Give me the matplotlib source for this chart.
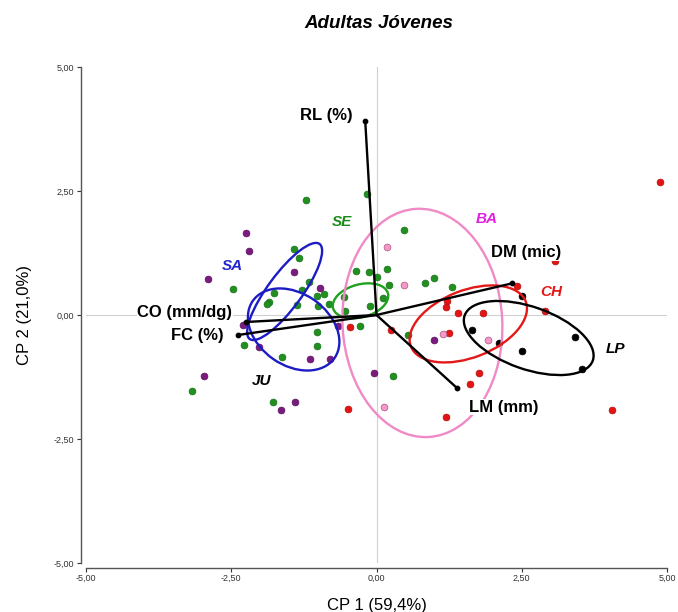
import matplotlib
matplotlib.use('Agg')
import matplotlib.pyplot as plt
from matplotlib.patches import Circle
from matplotlib.transforms import Affine2D
from matplotlib.ticker import FuncFormatter

plt.rcParams['font.family'] = ['Liberation Sans', 'DejaVu Sans']

# --- scores (CP1, CP2) per group colour ---
green_x = [-1.208, -0.163, -1.426, -1.328, -1.156, -2.466, -1.770, -1.284, -1.026, -0.911,
           -1.844, -1.885, -1.369, -1.009, -0.816, -0.567, -0.538, -0.108, 0.120, -0.349,
           -0.137, 0.017, 0.177, 0.223, 0.481, 0.833, 0.985, 1.306, -0.292, 0.550,
           -2.273, -1.017, -1.026, -1.627, 0.292, -3.179, -1.782]
green_y = [2.319, 2.440, 1.325, 1.149, 0.671, 0.518, 0.450, 0.504, 0.383, 0.423,
           0.262, 0.216, 0.202, 0.175, 0.212, 0.369, 0.087, 0.181, 0.337, 0.893,
           0.867, 0.772, 0.923, 0.595, 1.714, 0.639, 0.752, 0.571, -0.222, -0.413,
           -0.605, -0.337, -0.615, -0.853, -1.230, -1.526, -1.764]

purple_x = [-2.251, -2.199, -2.899, -1.426, -0.967, -2.297, -2.027, -1.139, -0.796, -0.670,
            -2.964, -1.397, -1.644, -0.043, 0.997]
purple_y = [1.647, 1.290, 0.722, 0.867, 0.538, -0.196, -0.651, -0.891, -0.891, -0.222,
            -1.220, -1.764, -1.915, -1.163, -0.494]

red_x = [-0.452, 0.249, -0.490, 1.191, 1.211, 1.191, 1.404, 1.838, 1.249, 1.761,
         1.610, 2.414, 2.904, 3.076, 4.050, 4.880]
red_y = [-0.248, -0.302, -1.899, -2.063, 0.288, 0.165, 0.034, 0.034, -0.357, -1.175,
         -1.391, 0.589, 0.081, 1.089, -1.915, 2.681]

pink_x = [0.180, 0.481, 1.148, 1.912, 0.125]
pink_y = [1.377, 0.601, -0.383, -0.494, -1.849]

black_x = [2.509, 1.637, 2.110, 2.509, 3.414, 3.534]
black_y = [0.383, -0.302, -0.560, -0.730, -0.450, -1.079]

# --- variable loadings (biplot vectors) ---
var_names = ['RL (%)', 'DM (mic)', 'LM (mm)', 'CO (mm/dg)', 'FC (%)']
var_x = [-0.194, 2.337, 1.380, -2.251, -2.383]
var_y = [3.911, 0.639, -1.466, -0.141, -0.403]
var_lab_x = [-0.868, 2.569, 2.182, -3.299, -3.084]
var_lab_y = [4.032, 1.250, -1.855, 0.046, -0.423]

# --- group ellipses: centre and two conjugate half-axes ---
grp_names = ['SA', 'JU', 'SE', 'BA', 'CH', 'LP']
grp_cx = [-1.581, -1.426, -0.275, 0.790, 1.580, 2.620]
grp_cy = [0.474, -0.292, 0.286, -0.160, -0.180, -0.464]
grp_u = [(0.601, 0.958), (0.704, -0.575), (0.472, 0.151), (-0.103, 2.300), (0.988, 0.454), (1.103, -0.454)]
grp_v = [(0.235, -0.204), (0.352, 0.595), (0.074, -0.319), (1.373, 0.085), (0.210, -0.630), (-0.177, -0.593)]
grp_lab_x = [-2.474, -1.976, -0.601, 1.890, 3.007, 4.107]
grp_lab_y = [0.988, -1.331, 1.875, 1.935, 0.464, -0.685]
grp_line_col = ['#1c1cc4', '#1c1cc4', '#1fa01f', '#f08ac6', '#e41818', '#000000']
grp_text_col = ['#2323cc', '#000000', '#1a8a1a', '#e020e0', '#e41818', '#000000']

fig = plt.figure(figsize=(6.78, 6.12), dpi=100, facecolor='white')
ax = fig.add_axes([86 / 678, 1 - 563 / 612, 581 / 678, 496 / 612])
ax.set_xlim(-5, 5)
ax.set_ylim(-5, 5)

ax.axvline(0, color='#d0d0d0', lw=0.8, zorder=0)
ax.axhline(0, color='#d0d0d0', lw=0.8, zorder=0)

pt = dict(s=24, linewidths=0.5, zorder=2, clip_on=False)
ax.scatter(green_x, green_y, color='#21901f', edgecolors='#17701a', **pt)
ax.scatter(purple_x, purple_y, color='#7a1c7e', edgecolors='#5a105e', **pt)
ax.scatter(red_x, red_y, color='#e41414', edgecolors='#b01010', **pt)
ax.scatter(pink_x, pink_y, color='#f39ac8', edgecolors='#b0507e', **pt)
ax.scatter(black_x, black_y, color='#000000', edgecolors='#000000', **pt)

for cx, cy, u, v, col in zip(grp_cx, grp_cy, grp_u, grp_v, grp_line_col):
    tr = Affine2D().from_values(u[0], u[1], v[0], v[1], cx, cy) + ax.transData
    ax.add_patch(Circle((0, 0), 1, transform=tr, fill=False, edgecolor=col, lw=1.7, zorder=3))

for x, y in zip(var_x, var_y):
    ax.plot([0, x], [0, y], color='black', lw=1.7, zorder=4, solid_capstyle='round')
ax.scatter(var_x, var_y, s=10, color='black', zorder=4)

for name, x, y in zip(var_names, var_lab_x, var_lab_y):
    ax.text(x, y, name, ha='center', va='center', fontsize=12, fontweight='bold', zorder=5,
            bbox=dict(facecolor='white', edgecolor='none', pad=0.5))

for name, x, y, col in zip(grp_names, grp_lab_x, grp_lab_y, grp_text_col):
    ax.text(x, y, name, ha='center', va='center', fontsize=11, fontweight='bold',
            fontstyle='italic', color=col, zorder=5)

for side in ['top', 'right']:
    ax.spines[side].set_visible(False)
for side in ['left', 'bottom']:
    ax.spines[side].set_position(('outward', 3.6))
    ax.spines[side].set_color('#555555')
    ax.spines[side].set_linewidth(1.0)

ticks = [-5, -2.5, 0, 2.5, 5]
ax.set_xticks(ticks)
ax.set_yticks(ticks)
fmt = FuncFormatter(lambda v, p: f'{v:.2f}'.replace('.', ','))
ax.xaxis.set_major_formatter(fmt)
ax.yaxis.set_major_formatter(fmt)
ax.tick_params(axis='both', labelsize=6.5, colors='#333333', length=3, width=0.8, pad=2)
ax.tick_params(axis='x', pad=1)

ax.set_xlabel('CP 1 (59,4%)', fontsize=12, labelpad=11)
ax.set_ylabel('CP 2 (21,0%)', fontsize=12, labelpad=15.5)
fig.text(379 / 678, 1 - 24 / 612, 'Adultas Jóvenes', ha='center', va='center',
         fontsize=13.5, fontweight='bold', fontstyle='italic')

fig.savefig('out.png', dpi=100, facecolor='white')
